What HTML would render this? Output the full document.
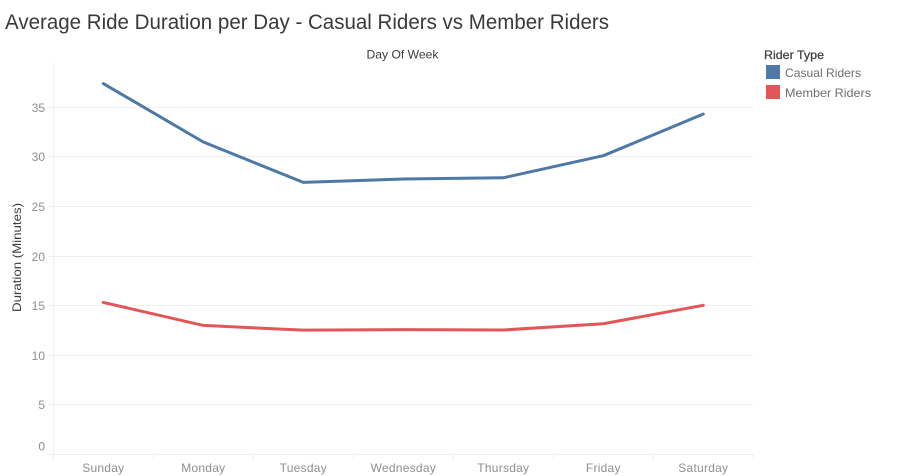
<!DOCTYPE html>
<html lang="en">
<head>
<meta charset="utf-8">
<title>Average Ride Duration per Day</title>
<style>
html,body{margin:0;padding:0;background:#fff;width:903px;height:476px;overflow:hidden}
svg{display:block;font-family:"Liberation Sans",sans-serif}
</style>
</head>
<body>
<svg id="chart" width="903" height="476" viewBox="0 0 903 476" xmlns="http://www.w3.org/2000/svg">
  <text x="5" y="29" font-size="21" fill="#3a3a3a" textLength="604" lengthAdjust="spacingAndGlyphs">Average Ride Duration per Day - Casual Riders vs Member Riders</text>
  <text x="366.5" y="58.5" font-size="12" fill="#3c3c3c" textLength="72" lengthAdjust="spacingAndGlyphs">Day Of Week</text>
  <text transform="translate(21,257.5) rotate(-90)" font-size="12" fill="#3c3c3c" text-anchor="middle" textLength="109" lengthAdjust="spacingAndGlyphs">Duration (Minutes)</text>
  <g id="grid"></g>
  <g id="axes"></g>
  <g id="series"></g>
  <g>
    <text x="764" y="59" font-size="12" stroke="#444" stroke-width="0.3" fill="#444" textLength="60" lengthAdjust="spacingAndGlyphs">Rider Type</text>
    <rect x="766" y="65" width="14" height="14" fill="#4e79a7"/>
    <text x="785" y="77" font-size="12" fill="#6e6e6e" textLength="76" lengthAdjust="spacingAndGlyphs">Casual Riders</text>
    <rect x="766" y="85" width="14" height="14" fill="#e15759"/>
    <text x="785" y="97" font-size="12" fill="#6e6e6e" textLength="86" lengthAdjust="spacingAndGlyphs">Member Riders</text>
  </g>
</svg>
<script>
const categories = ["Sunday", "Monday", "Tuesday", "Wednesday", "Thursday", "Friday", "Saturday"];
const casualRiders = [37.4, 31.5, 27.43, 27.77, 27.89, 30.12, 34.32];
const memberRiders = [15.32, 13.0, 12.52, 12.57, 12.54, 13.17, 15.03];
const yTicks = [0, 5, 10, 15, 20, 25, 30, 35];

const NS = "http://www.w3.org/2000/svg";
const plotLeft = 53.3, plotRight = 753.3, plotTop = 63;
const markZero = 454.3;
const unitPx = 9.914;
const bandWidth = (plotRight - plotLeft) / categories.length;
const xScale = i => plotLeft + bandWidth * (i + 0.5);
const yScale = v => markZero - v * unitPx;
const gridY = v => Math.floor(yScale(v)) + 0.5;
const crispX = x => Math.floor(x) + 0.5;

function make(tag, attrs, parent, txt) {
  const el = document.createElementNS(NS, tag);
  for (const k in attrs) el.setAttribute(k, attrs[k]);
  if (txt !== undefined) el.textContent = txt;
  parent.appendChild(el);
  return el;
}
const grid = document.getElementById("grid");
const axes = document.getElementById("axes");
const series = document.getElementById("series");

yTicks.forEach(t => {
  const y = gridY(t);
  const line = make("line", {x1: 48, x2: crispX(plotRight), y1: y, y2: y, stroke: "#f0f0f0", "stroke-width": 1}, grid);
  
  
  const label = make("text", {x: 45, y: t === 0 ? y - 4 : y + 4.5, "font-size": 12, fill: "#8f8f8f", "text-anchor": "end"}, axes, String(t));
  
  
});

const yAxis = make("line", {x1: crispX(plotLeft), x2: crispX(plotLeft), y1: plotTop, y2: gridY(0), stroke: "#f0f0f0", "stroke-width": 1}, axes);



for (let i = 0; i <= categories.length; i++) {
  const x = crispX(plotLeft + bandWidth * i);
  const tick = make("line", {x1: x, x2: x, y1: gridY(0), y2: gridY(0) + 5, stroke: "#eeeeee", "stroke-width": 1}, axes);
  
  
}

categories.forEach((c, i) => {
  const label = make("text", {x: xScale(i), y: 472, "font-size": 12, "letter-spacing": 0.25, fill: "#8f8f8f", "text-anchor": "middle"}, axes, c);
  
  
});

function drawSeries(values, color) {
  const d = values.map((v, i) => (i ? "L" : "M") + xScale(i).toFixed(2) + " " + yScale(v).toFixed(2)).join(" ");
  return make("path", {d: d, fill: "none", stroke: color, "stroke-width": 3, "stroke-linejoin": "round", "stroke-linecap": "round"}, series);
}
const casualLine = drawSeries(casualRiders, "#4e79a7");


const memberLine = drawSeries(memberRiders, "#e15759");


</script>
</body>
</html>
